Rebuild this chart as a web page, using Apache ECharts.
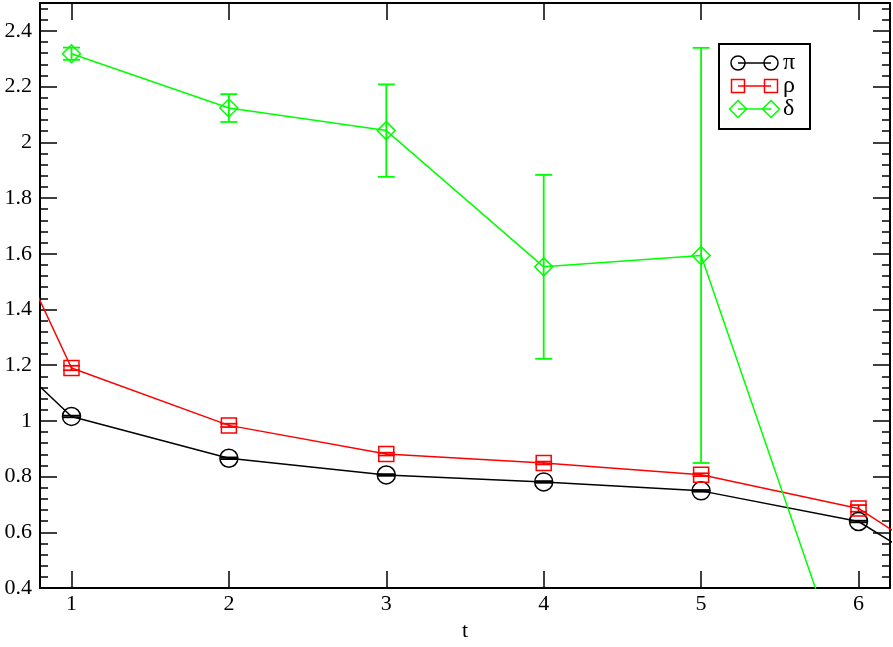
<!DOCTYPE html>
<html><head><meta charset="utf-8">
<script src="https://cdn.jsdelivr.net/npm/echarts@6/dist/echarts.min.js"></script>
<style>html,body{margin:0;padding:0;background:#fff}#c{width:893px;height:647px}</style>
</head><body><div id="c"></div>
<script>
// ---- data ----
const tPi = [0, 1, 2, 3, 4, 5, 6, 7];
const piVals = [1.55, 1.016, 0.866, 0.806, 0.781, 0.749, 0.639, 0.29];
const piErr = [0.003, 0.003, 0.003, 0.003, 0.003, 0.003, 0.003, 0.003];
const tRho = [0, 1, 2, 3, 4, 5, 6, 7];
const rhoVals = [2.40, 1.190, 0.984, 0.881, 0.849, 0.807, 0.686, 0.32];
const rhoErr = [0.008, 0.008, 0.006, 0.005, 0.005, 0.005, 0.012, 0.012];
const tDelta = [1, 2, 3, 4, 5, 6];
const deltaVals = [2.318, 2.123, 2.042, 1.553, 1.594, -0.05];
const deltaErr = [0.022, 0.05, 0.166, 0.33, 0.745, 0];
const xTicks = [1, 2, 3, 4, 5, 6];
const yTicks = [0.4, 0.6, 0.8, 1, 1.2, 1.4, 1.6, 1.8, 2, 2.2, 2.4];
const yMinorTicks = [0.44, 0.48, 0.52, 0.56, 0.64, 0.68, 0.72, 0.76, 0.84, 0.88, 0.92, 0.96,
  1.04, 1.08, 1.12, 1.16, 1.24, 1.28, 1.32, 1.36, 1.44, 1.48, 1.52, 1.56, 1.64, 1.68, 1.72, 1.76,
  1.84, 1.88, 1.92, 1.96, 2.04, 2.08, 2.12, 2.16, 2.24, 2.28, 2.32, 2.36, 2.44, 2.48];
const legendNames = ['π', 'ρ', 'δ'];

const FONT = 'Liberation Serif';
const XMIN = 0.8, XMAX = 6.2, YMIN = 0.4, YMAX = 2.5;

function zip(a, b, c) { return a.map((v, i) => c ? [v, b[i], c[i]] : [v, b[i]]); }

function errBar(color) {
  return function (params, api) {
    const x = api.value(0), y = api.value(1), e = api.value(2);
    const top = api.coord([x, y + e]);
    const bot = api.coord([x, y - e]);
    const hw = 8.5;
    const st = { stroke: color, lineWidth: 1.8, fill: null };
    return {
      type: 'group', children: [
        { type: 'line', shape: { x1: top[0], y1: top[1], x2: bot[0], y2: bot[1] }, style: st },
        { type: 'line', shape: { x1: top[0] - hw, y1: top[1], x2: top[0] + hw, y2: top[1] }, style: st },
        { type: 'line', shape: { x1: bot[0] - hw, y1: bot[1], x2: bot[0] + hw, y2: bot[1] }, style: st }
      ]
    };
  };
}

function xAx(pos, labels) {
  return {
    type: 'value', position: pos, min: XMIN, max: XMAX,
    axisLine: { show: true, onZero: false, lineStyle: { color: '#000', width: 2 } },
    axisTick: { show: true, inside: true, length: 17, customValues: xTicks, lineStyle: { color: '#000', width: 1.5 } },
    axisLabel: { show: labels, customValues: xTicks, color: '#000', fontFamily: FONT, fontSize: 22, margin: 5 },
    splitLine: { show: false },
    name: labels ? 't' : '', nameLocation: 'middle', nameGap: 25,
    nameTextStyle: { color: '#000', fontFamily: FONT, fontSize: 22 }
  };
}
function yAx(pos, major, labels) {
  return {
    type: 'value', position: pos, min: YMIN, max: YMAX,
    axisLine: { show: major, onZero: false, lineStyle: { color: '#000', width: 2 } },
    axisTick: { show: true, inside: true, length: major ? 17 : 8, customValues: major ? yTicks : yMinorTicks, lineStyle: { color: '#000', width: 1.5 } },
    axisLabel: { show: labels, customValues: yTicks, color: '#000', fontFamily: FONT, fontSize: 22, margin: 8 },
    splitLine: { show: false }
  };
}

const chart = echarts.init(document.getElementById('c'), null, { renderer: 'canvas' });

// legend graphics
const lgX0 = 719, lgY0 = 44, rows = [63, 86, 109], s1 = 738, s2 = 771, tx = 783;
const legendG = [{ type: 'rect', shape: { x: lgX0, y: lgY0, width: 91, height: 85 }, style: { fill: '#fff', stroke: '#000', lineWidth: 2 }, z: 100 }];
const colors = ['#000000', '#ff0000', '#00ff00'];
rows.forEach((ry, i) => {
  const c = colors[i];
  legendG.push({ type: 'line', shape: { x1: s1, y1: ry, x2: s2, y2: ry }, style: { stroke: c, lineWidth: 1.5 }, z: 101 });
  [s1, s2].forEach(sx => {
    let el;
    if (i === 0) el = { type: 'circle', shape: { cx: sx, cy: ry, r: 7 } };
    else if (i === 1) el = { type: 'rect', shape: { x: sx - 6.5, y: ry - 6.5, width: 13, height: 13 } };
    else el = { type: 'polygon', shape: { points: [[sx, ry - 8.5], [sx + 8.5, ry], [sx, ry + 8.5], [sx - 8.5, ry]] } };
    el.style = { fill: null, stroke: c, lineWidth: 1.5 };
    el.z = 101;
    legendG.push(el);
  });
  legendG.push({ type: 'text', style: { text: legendNames[i], x: tx, y: ry, verticalAlign: 'middle', fill: '#000', font: '24px ' + FONT }, z: 101 });
});

chart.setOption({
  animation: false,
  backgroundColor: '#fff',
  grid: { left: 40, right: 3, top: 3, bottom: 50, containLabel: false },
  xAxis: [xAx('bottom', true), xAx('top', false)],
  yAxis: [yAx('left', true, true), yAx('left', false, false), yAx('right', true, false), yAx('right', false, false)],
  graphic: legendG,
  series: [
    { type: 'line', name: 'π', data: zip(tPi, piVals), symbol: 'circle', symbolSize: 18, clip: true,
      lineStyle: { color: '#000', width: 1.5 }, itemStyle: { color: 'rgba(0,0,0,0)', borderColor: '#000', borderWidth: 1.5 }, emphasis: { disabled: true } },
    { type: 'line', name: 'ρ', data: zip(tRho, rhoVals), symbol: 'rect', symbolSize: 15, clip: true,
      lineStyle: { color: '#ff0000', width: 1.5 }, itemStyle: { color: 'rgba(0,0,0,0)', borderColor: '#ff0000', borderWidth: 1.5 }, emphasis: { disabled: true } },
    { type: 'line', name: 'δ', data: zip(tDelta, deltaVals), symbol: 'diamond', symbolSize: [18, 18], clip: true,
      lineStyle: { color: '#00ff00', width: 1.5 }, itemStyle: { color: 'rgba(0,0,0,0)', borderColor: '#00ff00', borderWidth: 1.5 }, emphasis: { disabled: true } },
    { type: 'custom', renderItem: errBar('#000'), data: zip(tPi, piVals, piErr), encode: { x: 0, y: 1 }, clip: true, silent: true },
    { type: 'custom', renderItem: errBar('#ff0000'), data: zip(tRho, rhoVals, rhoErr), encode: { x: 0, y: 1 }, clip: true, silent: true },
    { type: 'custom', renderItem: errBar('#00ff00'), data: zip(tDelta, deltaVals, deltaErr), encode: { x: 0, y: 1 }, clip: true, silent: true }
  ]
});
</script></body></html>
